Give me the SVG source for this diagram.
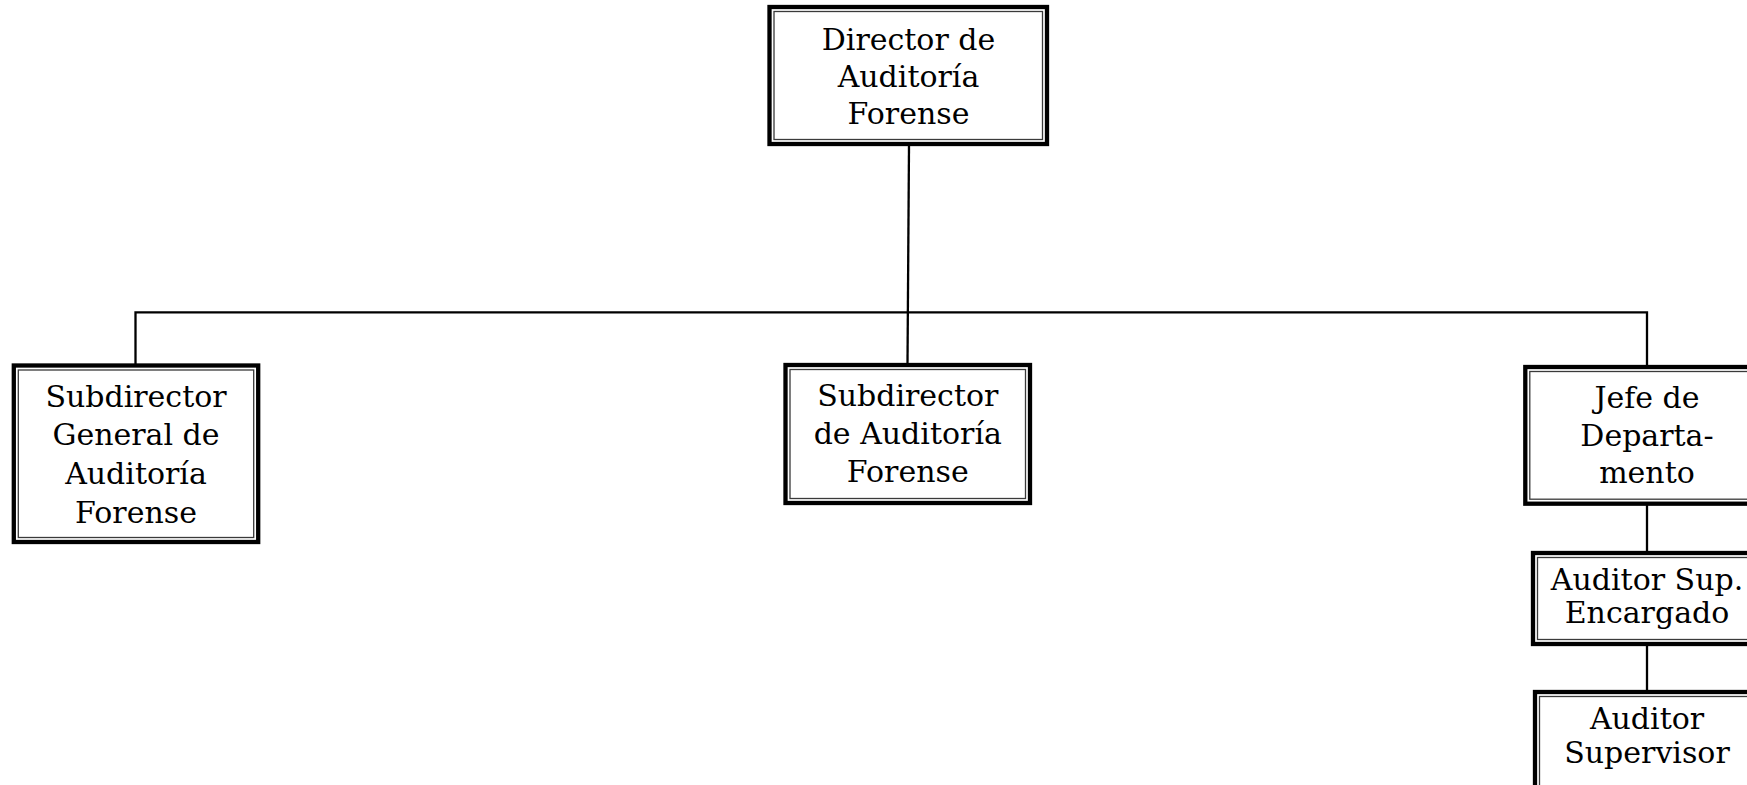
<svg xmlns="http://www.w3.org/2000/svg" width="1747" height="785" viewBox="0 0 1747 785">
<style>
.outer{fill:#fff;stroke:#000;stroke-width:4.3}
.inner{fill:none;stroke:#3a3a3a;stroke-width:1.3}
.lbl{font-family:"DejaVu Serif","Liberation Serif",serif;font-size:30px;fill:#000;text-anchor:middle}
.conn{fill:none;stroke:#000;stroke-width:2.3}
</style>
<rect width="1747" height="785" fill="#fff"/>
<g id="connectors">
<path class="conn" d="M909 146 L907.5 364"/>
<path class="conn" d="M135.5 364 V312.3 H1647 V366"/>
<path class="conn" d="M1647 505 V552"/>
<path class="conn" d="M1647 646 V691"/>
</g>
<g id="director">
<rect class="outer" x="769.5" y="7" width="277.5" height="137"/>
<rect class="inner" x="774" y="11.5" width="268.5" height="128"/>
<text class="lbl" x="908.5" y="49.5">Director de</text>
<text class="lbl" x="908.5" y="87">Auditoría</text>
<text class="lbl" x="908.5" y="124">Forense</text>
</g>
<g id="subdirector-general">
<rect class="outer" x="13.8" y="365.5" width="244.4" height="176.5"/>
<rect class="inner" x="18.3" y="370" width="235.4" height="167.5"/>
<text class="lbl" x="136" y="406.5">Subdirector</text>
<text class="lbl" x="136" y="445">General de</text>
<text class="lbl" x="136" y="484">Auditoría</text>
<text class="lbl" x="136" y="522.5">Forense</text>
</g>
<g id="subdirector">
<rect class="outer" x="785.5" y="365" width="244.5" height="138"/>
<rect class="inner" x="790" y="369.5" width="235.5" height="129"/>
<text class="lbl" x="907.75" y="405.5">Subdirector</text>
<text class="lbl" x="907.75" y="443.5">de Auditoría</text>
<text class="lbl" x="907.75" y="481.7">Forense</text>
</g>
<g id="jefe">
<rect class="outer" x="1525.3" y="367" width="243" height="136.7"/>
<rect class="inner" x="1529.8" y="371.5" width="234" height="127.7"/>
<text class="lbl" x="1647" y="408">Jefe de</text>
<text class="lbl" x="1647" y="445.7">Departa-</text>
<text class="lbl" x="1647" y="483.3">mento</text>
</g>
<g id="auditor-sup-encargado">
<rect class="outer" x="1533" y="553" width="230" height="91"/>
<rect class="inner" x="1537.5" y="557.5" width="221" height="82"/>
<text class="lbl" x="1647" y="590">Auditor Sup.</text>
<text class="lbl" x="1647" y="623">Encargado</text>
</g>
<g id="auditor-supervisor">
<rect class="outer" x="1535" y="692" width="228" height="100"/>
<rect class="inner" x="1539.5" y="696.5" width="219" height="91"/>
<text class="lbl" x="1647" y="729">Auditor</text>
<text class="lbl" x="1647" y="762.5">Supervisor</text>
</g>
</svg>
